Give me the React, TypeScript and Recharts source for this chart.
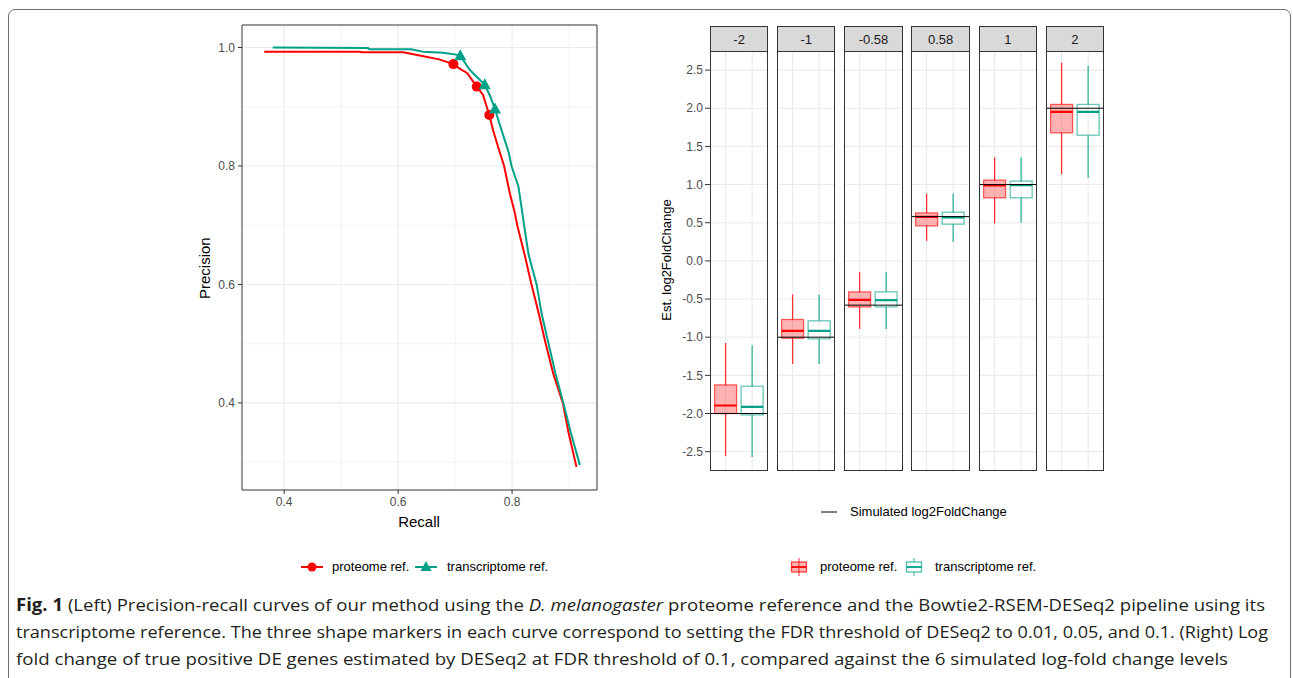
import {
  ComposedChart, Line, Scatter, Bar, XAxis, YAxis, CartesianGrid, ReferenceLine, ReferenceArea,
} from 'recharts';

const RED = '#FF0000';
const TEAL = '#00A087';
const FONT = "'Liberation Sans', Arial, sans-serif";

// left panel: precision-recall curves
const proteomeRecall = [0.365, 0.533, 0.535, 0.609, 0.640, 0.672, 0.697, 0.710, 0.721, 0.738, 0.749, 0.760, 0.767, 0.779, 0.786, 0.796, 0.805, 0.809, 0.822, 0.834, 0.847, 0.859, 0.872, 0.889, 0.899, 0.913];
const proteomePrecision = [0.993, 0.993, 0.992, 0.992, 0.986, 0.980, 0.972, 0.963, 0.957, 0.934, 0.920, 0.886, 0.859, 0.821, 0.800, 0.754, 0.720, 0.700, 0.650, 0.600, 0.550, 0.500, 0.450, 0.400, 0.350, 0.292];
const transcriptomeRecall = [0.380, 0.547, 0.550, 0.623, 0.644, 0.679, 0.702, 0.709, 0.726, 0.752, 0.761, 0.770, 0.779, 0.794, 0.799, 0.811, 0.817, 0.821, 0.829, 0.843, 0.852, 0.864, 0.876, 0.890, 0.903, 0.919];
const transcriptomePrecision = [1.000, 0.999, 0.997, 0.997, 0.993, 0.991, 0.988, 0.986, 0.962, 0.937, 0.919, 0.896, 0.868, 0.823, 0.800, 0.766, 0.727, 0.700, 0.650, 0.600, 0.550, 0.500, 0.450, 0.400, 0.350, 0.295];
// FDR 0.01, 0.05, 0.1
const proteomeMarkRecall = [0.697, 0.738, 0.760];
const proteomeMarkPrecision = [0.972, 0.934, 0.886];
const transcriptomeMarkRecall = [0.709, 0.752, 0.770];
const transcriptomeMarkPrecision = [0.986, 0.937, 0.896];

const recallTicks = [0.4, 0.6, 0.8];
const recallMinor = [0.5, 0.7, 0.9];
const precisionTicks = [0.4, 0.6, 0.8, 1.0];
const precisionMinor = [0.3, 0.5, 0.7, 0.9];

// right panel: estimated log2 fold change boxplots, one facet per simulated level
const refs = ['proteome ref.', 'transcriptome ref.'];
const levels = ['-2', '-1', '-0.58', '0.58', '1', '2'];
const simulated = [-2, -1, -0.58, 0.58, 1, 2];
const protLow = [-2.556, -1.35, -0.891, 0.262, 0.49, 1.136];
const protQ1 = [-2.0, -1.013, -0.603, 0.459, 0.826, 1.678];
const protMed = [-1.895, -0.917, -0.511, 0.577, 0.988, 1.953];
const protQ3 = [-1.625, -0.768, -0.406, 0.629, 1.058, 2.05];
const protHigh = [-1.075, -0.44, -0.148, 0.883, 1.355, 2.595];
const txLow = [-2.569, -1.35, -0.891, 0.249, 0.503, 1.088];
const txQ1 = [-2.018, -1.022, -0.603, 0.481, 0.826, 1.647];
const txMed = [-1.913, -0.917, -0.515, 0.569, 0.992, 1.953];
const txQ3 = [-1.642, -0.786, -0.406, 0.638, 1.045, 2.05];
const txHigh = [-1.105, -0.44, -0.148, 0.883, 1.355, 2.556];
const foldTicks = [-2.5, -2, -1.5, -1, -0.5, 0, 0.5, 1, 1.5, 2, 2.5];

const zip = (xs: number[], ys: number[]) => xs.map((x, i) => ({ recall: x, precision: ys[i] }));

const tickStyle = { fontSize: 12, fill: '#4D4D4D', fontFamily: FONT };

const Dot = (p: any) => <circle cx={p.cx} cy={p.cy} r={5} fill={RED} />;
const Tri = (p: any) => (
  <polygon points={`${p.cx},${p.cy - 6.5} ${p.cx - 6},${p.cy + 4.5} ${p.cx + 6},${p.cy + 4.5}`} fill={TEAL} />
);

function PrecisionRecall() {
  return (
    <div style={{ position: 'absolute', left: 150, top: 0 }}>
      <ComposedChart width={460} height={540} margin={{ top: 25, right: 13, bottom: 0, left: 0 }}>
        <CartesianGrid horizontalValues={precisionMinor} verticalValues={recallMinor} stroke="#EEEEEE" strokeWidth={0.7} />
        <CartesianGrid horizontalValues={precisionTicks} verticalValues={recallTicks} stroke="#EBEBEB" strokeWidth={1.1} />
        <XAxis
          type="number" dataKey="recall" domain={[0.326, 0.949]} ticks={recallTicks} allowDataOverflow
          height={50} tick={tickStyle} tickFormatter={(v: number) => v.toFixed(1)}
          axisLine={false} tickLine={{ stroke: '#333' }} tickSize={4} tickMargin={3}
        />
        <YAxis
          type="number" dataKey="precision" domain={[0.253, 1.038]} ticks={precisionTicks} allowDataOverflow
          width={92} tick={tickStyle} tickFormatter={(v: number) => v.toFixed(1)}
          axisLine={false} tickLine={{ stroke: '#333' }} tickSize={4} tickMargin={3}
        />
        <ReferenceArea x1={0.326} x2={0.949} y1={0.253} y2={1.038} fill="none" stroke="#333" strokeWidth={1} />
        <Line data={zip(proteomeRecall, proteomePrecision)} dataKey="precision" type="linear" stroke={RED} strokeWidth={2} dot={false} isAnimationActive={false} />
        <Line data={zip(transcriptomeRecall, transcriptomePrecision)} dataKey="precision" type="linear" stroke={TEAL} strokeWidth={2} dot={false} isAnimationActive={false} />
        <Scatter data={zip(proteomeMarkRecall, proteomeMarkPrecision)} dataKey="precision" shape={Dot} isAnimationActive={false} />
        <Scatter data={zip(transcriptomeMarkRecall, transcriptomeMarkPrecision)} dataKey="precision" shape={Tri} isAnimationActive={false} />
      </ComposedChart>
    </div>
  );
}

const BoxShape = (props: any) => {
  const { x, y, width, height, payload } = props;
  if (!payload) return null;
  const { lo, q1, med, q3, hi, color, filled } = payload;
  const top = Math.min(y, y + height);
  const h = Math.abs(height);
  const k = h / (hi - lo);
  const py = (v: number) => top + (hi - v) * k;
  const cx = x + width / 2;
  return (
    <g>
      <line x1={cx} x2={cx} y1={py(hi)} y2={py(q3)} stroke={color} strokeOpacity={0.8} strokeWidth={1.3} />
      <line x1={cx} x2={cx} y1={py(q1)} y2={py(lo)} stroke={color} strokeOpacity={0.8} strokeWidth={1.3} />
      <rect x={x} y={py(q3)} width={width} height={py(q1) - py(q3)}
        fill={filled ? color : 'none'} fillOpacity={0.3} stroke={color} strokeOpacity={0.6} strokeWidth={1.3} />
      <line x1={x} x2={x + width} y1={py(med)} y2={py(med)} stroke={color} strokeWidth={2.2} />
    </g>
  );
};

// bar background column -> vertical grid line through the box centre
const ColumnGrid = (p: any) => (
  <line x1={p.x + p.width / 2} x2={p.x + p.width / 2} y1={p.y} y2={p.y + p.height} stroke="#EBEBEB" strokeWidth={1.1} />
);

const PW = 58.3;

function FoldPanel({ i }: { i: number }) {
  const left = 710 + i * 67.15;
  const first = i === 0;
  const rows = [
    { ref: refs[0], lo: protLow[i], q1: protQ1[i], med: protMed[i], q3: protQ3[i], hi: protHigh[i], color: RED, filled: true },
    { ref: refs[1], lo: txLow[i], q1: txQ1[i], med: txMed[i], q3: txQ3[i], hi: txHigh[i], color: TEAL, filled: false },
  ];
  return (
    <>
      <div style={{ position: 'absolute', left: first ? left - 60 : left, top: 51 }}>
        <ComposedChart width={PW + (first ? 60 : 0)} height={419} data={rows} margin={{ top: 0, right: 0, bottom: 0, left: 0 }}>
          <CartesianGrid horizontalValues={foldTicks} vertical={false} stroke="#EBEBEB" strokeWidth={1.1} />
          <XAxis dataKey="ref" type="category" height={0} tick={false} axisLine={false} tickLine={false} padding={{ left: 2.6, right: 2.6 }} />
          <YAxis
            type="number" domain={[-2.74, 2.75]} ticks={foldTicks} allowDataOverflow hide={!first} width={60}
            tick={tickStyle} tickFormatter={(v: number) => v.toFixed(1)}
            axisLine={false} tickLine={{ stroke: '#333' }} tickSize={5} tickMargin={2}
          />
          <Bar dataKey={(d: any) => [d.lo, d.hi]} barSize={22} shape={BoxShape} background={ColumnGrid} isAnimationActive={false} />
          <ReferenceLine y={simulated[i]} stroke="#000" strokeWidth={1} />
        </ComposedChart>
      </div>
      <div style={{
        position: 'absolute', left, top: 25.5, width: PW, height: 445, boxSizing: 'border-box',
        border: '1px solid #333', pointerEvents: 'none',
      }}>
        <div style={{
          height: 25, background: '#D9D9D9', borderBottom: '1px solid #333', boxSizing: 'border-box',
          fontSize: 13, color: '#1A1A1A', textAlign: 'center', lineHeight: '25px',
        }}>{levels[i]}</div>
      </div>
    </>
  );
}

function BoxKey({ color, filled }: { color: string; filled: boolean }) {
  return (
    <svg width={18} height={20}>
      <line x1={9} x2={9} y1={1} y2={19} stroke={color} strokeOpacity={0.8} />
      <rect x={1.5} y={5} width={15} height={10} fill={filled ? color : 'white'} fillOpacity={filled ? 0.3 : 1}
        stroke={color} strokeOpacity={0.7} strokeWidth={1.3} />
      <line x1={1.5} x2={16.5} y1={10} y2={10} stroke={color} strokeWidth={1.8} />
    </svg>
  );
}

const legendText: React.CSSProperties = { position: 'absolute', fontSize: 13, color: '#000', lineHeight: '16px' };

export default function App() {
  return (
    <div style={{ position: 'absolute', left: 0, top: 0, width: 1293, height: 678, overflow: 'hidden', background: '#fff', fontFamily: FONT }}>
      <div style={{
        position: 'absolute', left: 8, top: 9, width: 1283, height: 720, boxSizing: 'border-box',
        border: '1px solid #6e6e6e', borderRadius: 7,
      }} />

      <PrecisionRecall />
      <div style={{ position: 'absolute', left: 175, top: 261, width: 60, height: 16, transform: 'rotate(-90deg)', fontSize: 15, textAlign: 'center', lineHeight: '16px' }}>Precision</div>
      <div style={{ position: 'absolute', left: 369, top: 513, width: 100, textAlign: 'center', fontSize: 15, lineHeight: '18px' }}>Recall</div>

      <svg style={{ position: 'absolute', left: 301, top: 559 }} width={22} height={16}>
        <line x1={0} x2={22} y1={8} y2={8} stroke={RED} strokeWidth={2} />
        <circle cx={11} cy={8} r={4.5} fill={RED} />
      </svg>
      <div style={{ ...legendText, left: 332, top: 559 }}>proteome ref.</div>
      <svg style={{ position: 'absolute', left: 415, top: 559 }} width={22} height={16}>
        <line x1={0} x2={22} y1={8} y2={8} stroke={TEAL} strokeWidth={2} />
        <polygon points="11,2 5.5,12 16.5,12" fill={TEAL} />
      </svg>
      <div style={{ ...legendText, left: 447, top: 559 }}>transcriptome ref.</div>

      {levels.map((_, i) => <FoldPanel key={i} i={i} />)}
      <div style={{ position: 'absolute', left: 587, top: 252, width: 160, height: 16, transform: 'rotate(-90deg)', fontSize: 13, textAlign: 'center', lineHeight: '16px' }}>Est. log2FoldChange</div>

      <svg style={{ position: 'absolute', left: 821, top: 504 }} width={16} height={16}>
        <line x1={0} x2={16} y1={8} y2={8} stroke="#000" strokeWidth={1} />
      </svg>
      <div style={{ ...legendText, left: 850, top: 504 }}>Simulated log2FoldChange</div>
      <div style={{ position: 'absolute', left: 790, top: 557 }}><BoxKey color={RED} filled /></div>
      <div style={{ ...legendText, left: 820, top: 559 }}>proteome ref.</div>
      <div style={{ position: 'absolute', left: 905, top: 557 }}><BoxKey color={TEAL} filled={false} /></div>
      <div style={{ ...legendText, left: 935, top: 559 }}>transcriptome ref.</div>

      <svg style={{ position: 'absolute', left: 0, top: 590 }} width={1293} height={88}>
        <g fontFamily="'Open Sans', 'Noto Sans', sans-serif" fontSize={17} fill="#231F20">
          <text x={16} y={21} textLength={1249} lengthAdjust="spacingAndGlyphs">
            <tspan fontWeight="bold">Fig. 1</tspan>
            {' (Left) Precision-recall curves of our method using the '}
            <tspan fontStyle="italic">D. melanogaster</tspan>
            {' proteome reference and the Bowtie2-RSEM-DESeq2 pipeline using its'}
          </text>
          <text x={16} y={48} textLength={1252} lengthAdjust="spacingAndGlyphs">
            transcriptome reference. The three shape markers in each curve correspond to setting the FDR threshold of DESeq2 to 0.01, 0.05, and 0.1. (Right) Log
          </text>
          <text x={16} y={75} textLength={1212} lengthAdjust="spacingAndGlyphs">
            fold change of true positive DE genes estimated by DESeq2 at FDR threshold of 0.1, compared against the 6 simulated log-fold change levels
          </text>
        </g>
      </svg>
    </div>
  );
}
